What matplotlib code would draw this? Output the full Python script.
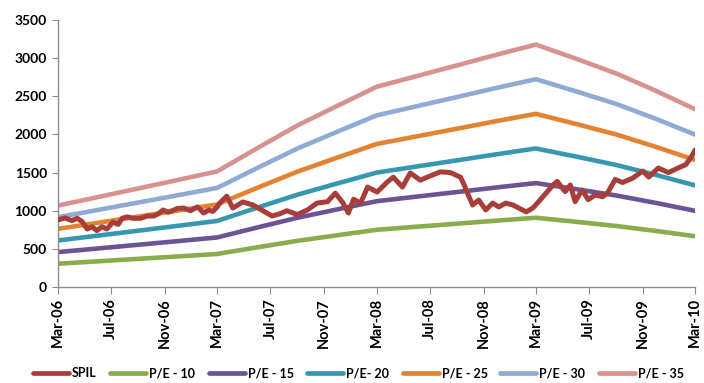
import matplotlib
matplotlib.use("Agg")
import matplotlib.pyplot as plt
import matplotlib.dates as mdates
from matplotlib import font_manager
from matplotlib.lines import Line2D
import pandas as pd
import numpy as np

# SPIL share price (approximate closing levels)
spil_dates = [
    "2006-03-01", "2006-03-17", "2006-04-02", "2006-04-14", "2006-04-25", "2006-05-07",
    "2006-05-18", "2006-05-29", "2006-06-10", "2006-06-21", "2006-07-05", "2006-07-17",
    "2006-07-26", "2006-08-07", "2006-08-20", "2006-09-06", "2006-09-22", "2006-10-06",
    "2006-10-17", "2006-10-28", "2006-11-09", "2006-11-18", "2006-11-30", "2006-12-14",
    "2006-12-30", "2007-01-15", "2007-01-29", "2007-02-10", "2007-02-19", "2007-03-01",
    "2007-03-07", "2007-03-23", "2007-04-06", "2007-04-29", "2007-05-22", "2007-06-14",
    "2007-07-05", "2007-07-23", "2007-08-08", "2007-09-01", "2007-09-24", "2007-10-16",
    "2007-11-09", "2007-11-27", "2007-12-15", "2007-12-27", "2008-01-08", "2008-01-24",
    "2008-02-09", "2008-03-02", "2008-03-25", "2008-04-08", "2008-04-29", "2008-05-17",
    "2008-06-09", "2008-06-25", "2008-07-25", "2008-08-17", "2008-09-09", "2008-09-16",
    "2008-09-25", "2008-10-07", "2008-10-21", "2008-11-06", "2008-11-22", "2008-12-06",
    "2008-12-22", "2009-01-07", "2009-01-21", "2009-02-07", "2009-02-22", "2009-03-06",
    "2009-03-25", "2009-04-10", "2009-04-19", "2009-05-07", "2009-05-19", "2009-05-30",
    "2009-06-15", "2009-06-29", "2009-07-15", "2009-08-01", "2009-08-12", "2009-08-30",
    "2009-09-16", "2009-10-09", "2009-11-01", "2009-11-15", "2009-12-07", "2009-12-30",
    "2010-01-23", "2010-02-08", "2010-02-20", "2010-03-01",
]
spil_values = [
    880, 905, 870, 900, 860, 760,
    790, 740, 790, 760, 850, 820,
    900, 920, 900, 900, 930, 930,
    960, 1010, 980, 1000, 1030, 1035,
    1000, 1050, 970, 1010, 990, 1050,
    1100, 1190, 1035, 1115, 1075, 1000,
    930, 960, 1000, 950, 1010, 1100,
    1118, 1230, 1100, 970, 1150, 1100,
    1310, 1245, 1375, 1440, 1310, 1495,
    1400, 1440, 1510, 1500, 1440, 1360,
    1230, 1075, 1140, 1010, 1100, 1050,
    1100, 1075, 1035, 985, 1035, 1110,
    1235, 1340, 1385, 1250, 1337, 1118,
    1272, 1145, 1206, 1184, 1230, 1410,
    1370, 1427, 1520, 1442, 1560, 1500,
    1565, 1605, 1700, 1795,
]

# Quarterly trailing EPS used for the P/E bands
eps_dates = [
    "2006-03-01", "2006-06-01", "2006-09-01", "2006-12-01",
    "2007-03-01", "2007-06-01", "2007-09-01", "2007-12-01",
    "2008-03-01", "2008-06-01", "2008-09-01", "2008-12-01",
    "2009-03-01", "2009-06-01", "2009-09-01", "2009-12-01",
    "2010-03-01",
]
eps_values = [
    30.5, 33.7, 36.9, 40.1,
    43.3, 52.0, 60.5, 67.8,
    75.0, 79.0, 83.0, 87.0,
    90.8, 85.5, 80.0, 73.5,
    66.6,
]

pe_multiples = [10, 15, 20, 25, 30, 35]
pe_labels = ["P/E - 10", "P/E - 15", "P/E- 20", "P/E - 25", "P/E - 30", "P/E - 35"]
pe_colors = ["#88AD4C", "#6B5394", "#3598B0", "#E4832F", "#8EAAD5", "#D79290"]
spil_label = "SPIL"
spil_color = "#A93D39"

y_ticks = [0, 500, 1000, 1500, 2000, 2500, 3000, 3500]

plt.rcParams['font.family'] = ['Lato', 'DejaVu Sans']
legend_font = font_manager.FontProperties(family=['Lato', 'DejaVu Sans'],
                                          weight='bold', size=9)

W, H = 704, 383
fig = plt.figure(figsize=(W / 100, H / 100), dpi=100)
ax = fig.add_axes([58 / W, 1 - 287 / H, (695 - 58) / W, (287 - 20) / H])

spil_x = pd.to_datetime(spil_dates)
eps_x = pd.to_datetime(eps_dates)
eps_arr = np.array(eps_values)

ax.plot(spil_x, spil_values, color=spil_color, lw=3.6,
        solid_joinstyle="round", solid_capstyle="round", zorder=3)
for pe, col in zip(pe_multiples, pe_colors):
    ax.plot(eps_x, eps_arr * pe, color=col, lw=3.3,
            solid_capstyle="round", solid_joinstyle="round", zorder=2)

ax.set_xlim(pd.Timestamp("2006-03-01"), pd.Timestamp("2010-03-01"))
ax.set_ylim(0, 3500)
ax.set_yticks(y_ticks)
ax.set_yticklabels([str(v) for v in y_ticks], fontsize=10, fontweight="bold")

ax.xaxis.set_major_locator(mdates.MonthLocator(bymonth=[3, 7, 11], bymonthday=1))
ax.xaxis.set_major_formatter(mdates.DateFormatter("%b-%y"))
ax.tick_params(axis="x", which="major", rotation=90, labelsize=10.5, length=5,
               color="#8C8C8C", pad=3)
ax.tick_params(axis="y", length=4, color="#8C8C8C", pad=4)
for lbl in ax.get_xticklabels():
    lbl.set_fontweight("bold")

for side in ("top", "right"):
    ax.spines[side].set_visible(False)
for side in ("left", "bottom"):
    ax.spines[side].set_color("#8C8C8C")
    ax.spines[side].set_linewidth(1.0)

# Legend row along the bottom: thick swatch followed by its label
legend_labels = [spil_label] + pe_labels
legend_colors = [spil_color] + pe_colors
swatch_left = [31, 108, 207, 305, 401, 498, 597]
swatch_len = 40
legend_y = 1 - 373 / H
for x0, lab, col in zip(swatch_left, legend_labels, legend_colors):
    fig.add_artist(Line2D([(x0 + 2) / W, (x0 + swatch_len - 2) / W], [legend_y, legend_y],
                          transform=fig.transFigure, color=col, lw=3.4,
                          solid_capstyle="round"))
    fig.text((x0 + swatch_len + 1) / W, legend_y, lab, ha="left", va="center",
             fontproperties=legend_font, color="black")

fig.savefig("out.png", dpi=100)
